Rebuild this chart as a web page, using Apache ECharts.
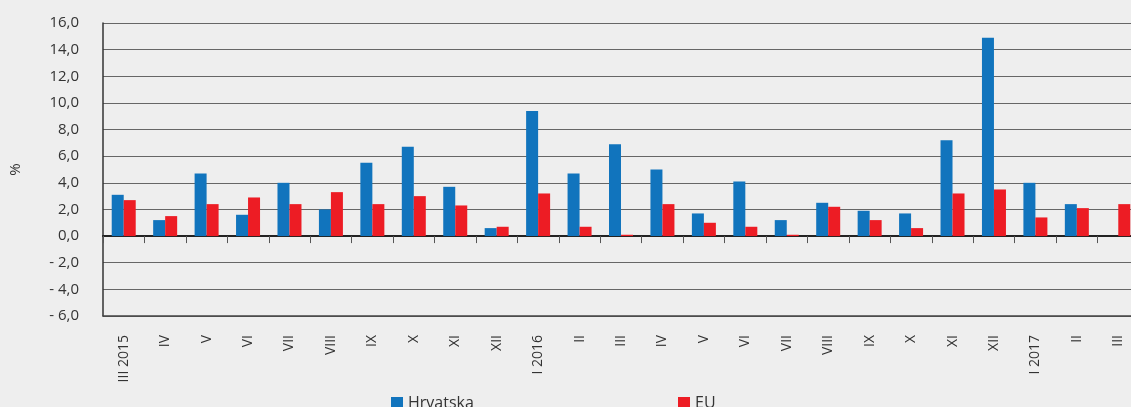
<!DOCTYPE html>
<html>
<head>
<meta charset="utf-8">
<script src="https://cdn.jsdelivr.net/npm/echarts@6/dist/echarts.min.js"></script>
<style>
html,body{margin:0;padding:0;background:#eeeeee;overflow:hidden;width:1131px;height:407px;}
#main{width:1139px;height:407px;}
</style>
</head>
<body>
<div id="main"></div>
<script>
const categories = ['III 2015','IV','V','VI','VII','VIII','IX','X','XI','XII','I 2016','II','III','IV','V','VI','VII','VIII','IX','X','XI','XII','I 2017','II','III'];
const hrvatska = [3.1,1.2,4.7,1.6,4.0,2.0,5.5,6.7,3.7,0.6,9.4,4.7,6.9,5.0,1.7,4.1,1.2,2.5,1.9,1.7,7.2,14.9,4.0,2.4,null];
const eu = [2.7,1.5,2.4,2.9,2.4,3.3,2.4,3.0,2.3,0.7,3.2,0.7,0.1,2.4,1.0,0.7,0.1,2.2,1.2,0.6,3.2,3.5,1.4,2.1,2.4];
const yMin = -6, yMax = 16, yStep = 2;

const FONT = 'Open Sans';
const chart = echarts.init(document.getElementById('main'));
chart.setOption({
  backgroundColor: '#eeeeee',
  animation: false,
  textStyle: {fontFamily: FONT, color: '#333'},
  grid: {left: 97, right: 0, top: 23, bottom: 91, containLabel: false},
  legend: [
    {data: ['Hrvatska'], left: 391, top: 395, itemWidth: 12, itemHeight: 12, itemGap: 6, padding: 0,
     textStyle: {fontFamily: FONT, fontSize: 16, color: '#333'}, icon: 'rect'},
    {data: ['EU'], left: 678, top: 395, itemWidth: 12, itemHeight: 12, itemGap: 6, padding: 0,
     textStyle: {fontFamily: FONT, fontSize: 16, color: '#333'}, icon: 'rect'}
  ],
  xAxis: [
    {type: 'category', data: categories, position: 'bottom',
     axisLine: {onZero: true, lineStyle: {color: '#222', width: 2}},
     axisTick: {show: true, interval: 0, alignWithLabel: false, length: 7, lineStyle: {color: '#555', width: 1}},
     axisLabel: {show: false, interval: 0}, splitLine: {show: false}},
    {type: 'category', data: categories, position: 'bottom',
     axisLine: {onZero: false, lineStyle: {color: '#444', width: 1.5}},
     axisTick: {show: false},
     axisLabel: {show: true, rotate: 90, margin: 19, interval: 0, fontSize: 14, color: '#333', fontFamily: FONT},
     splitLine: {show: false}}
  ],
  yAxis: {
    type: 'value', min: yMin, max: yMax, interval: yStep,
    name: '%', nameLocation: 'middle', nameRotate: 90, nameGap: 80,
    nameTextStyle: {fontSize: 15, color: '#333', fontFamily: FONT},
    axisLine: {show: true, lineStyle: {color: '#333', width: 1.5}},
    axisTick: {show: false},
    axisLabel: {margin: 24, fontSize: 15, color: '#333', fontFamily: FONT,
      formatter: v => (v < 0 ? '- ' : '') + Math.abs(v).toFixed(1).replace('.', ',')},
    splitLine: {show: true, lineStyle: {color: '#666', width: 1}}
  },
  series: [
    {name: 'Hrvatska', type: 'bar', xAxisIndex: 0, data: hrvatska, barWidth: 12, barGap: '0%',
     itemStyle: {color: '#1174bd'}},
    {name: 'EU', type: 'bar', xAxisIndex: 0, data: eu, barWidth: 12, barGap: '0%',
     itemStyle: {color: '#ed1c24'}}
  ]
});
</script>
</body>
</html>
